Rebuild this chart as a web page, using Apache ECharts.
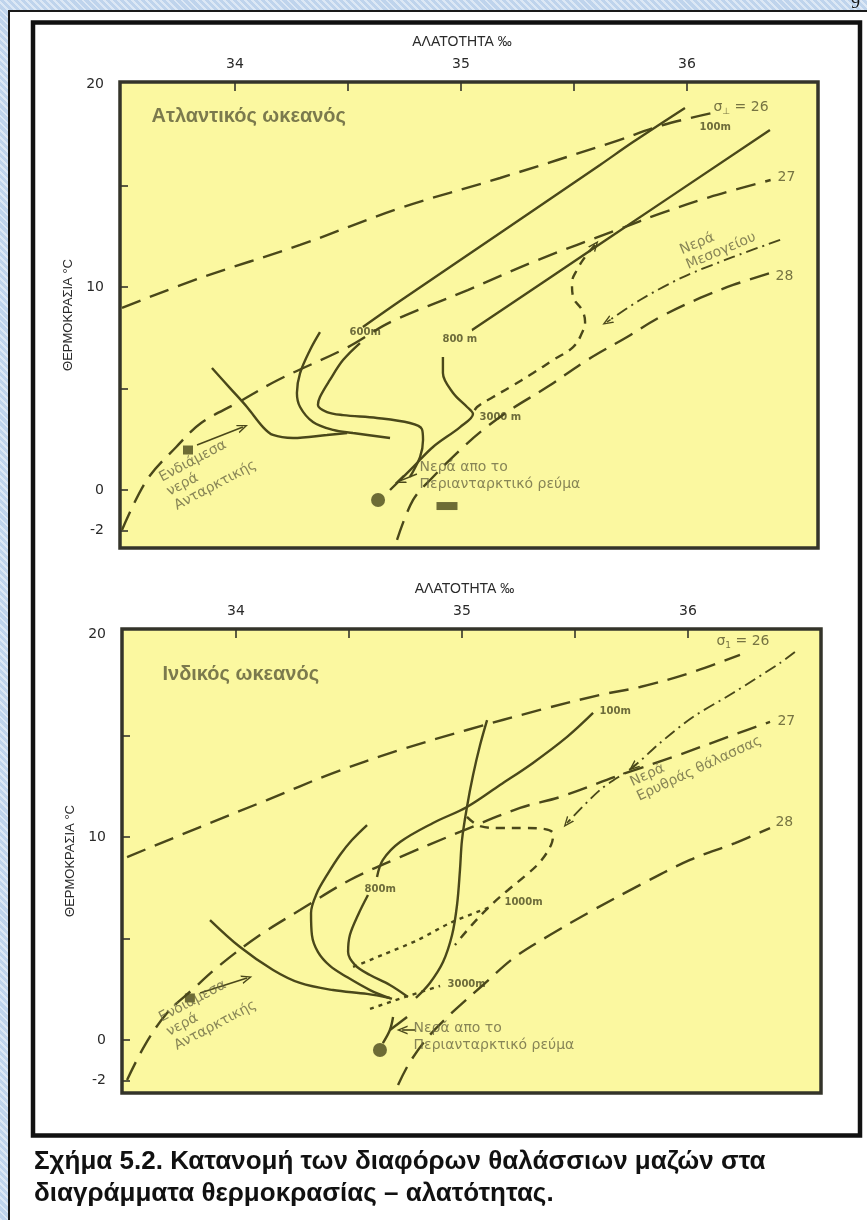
<!DOCTYPE html>
<html><head><meta charset="utf-8">
<script src="https://cdn.jsdelivr.net/npm/echarts@6/dist/echarts.min.js"></script>
<style>
html,body{margin:0;padding:0;}
body{background:#c9dbf0 repeating-linear-gradient(45deg,rgba(255,255,255,.35) 0 2px,rgba(160,190,225,.25) 2px 5px);width:867px;height:1220px;overflow:hidden;position:relative;}
#panel{position:absolute;left:8px;top:10px;width:900px;height:1300px;background:#fff;border-left:2px solid #1a1a1a;border-top:2px solid #1a1a1a;}
#chart{position:absolute;left:0;top:0;width:867px;height:1220px;}
</style></head><body>
<div id="panel"></div><div id="chart"></div>
<script>
// ---- axes ----
const xTicks = [34, 34.5, 35, 35.5, 36];
const xTickLabels = [34, 35, 36];
const yTicks = [15, 10, 5, 0, -2];
const yTickLabels = [20, 10, 0, -2];

// ---- Atlantic (top) : [salinity, temperature] ----
const atlSigma26 = [[33.50,8.97],[33.845,10.44],[34.288,12.07],[34.730,13.89],[35.173,15.37],[35.673,17.14],[35.894,17.98],[36.111,18.57]];
const atlSigma27 = [[33.50,-1.97],[33.61,0.49],[33.74,2.12],[33.85,3.30],[34.01,4.29],[34.19,5.42],[34.50,7.04],[34.69,8.28],[35.03,9.85],[35.34,11.33],[35.69,12.81],[35.89,13.65],[36.10,14.43],[36.37,15.27]];
const atlSigma28 = [[34.717,-2.46],[34.788,-0.49],[34.876,0.64],[34.996,1.97],[35.097,2.96],[35.217,3.94],[35.381,5.07],[35.558,6.40],[35.735,7.54],[35.881,8.52],[36.058,9.46],[36.204,10.10],[36.367,10.69]];
const atlSouthUpper = [[35.991,18.82],[35.761,17.14],[35.615,16.01],[35.173,12.66],[34.730,9.31],[34.566,8.03]];
const atlSouthLower = [[34.553,7.24],[34.478,6.40],[34.420,5.42],[34.376,4.58],[34.367,4.19],[34.407,3.84],[34.478,3.69],[34.628,3.55],[34.774,3.30],[34.827,3.00],[34.832,2.46],[34.819,1.63],[34.774,0.64]];
const atlMidCurve = [[34.376,7.78],[34.332,6.90],[34.288,5.76],[34.274,4.78],[34.288,4.09],[34.345,3.35],[34.434,2.96],[34.522,2.81],[34.686,2.56]];
const atlLeftCurve = [[33.898,6.01],[33.978,5.02],[34.053,4.09],[34.124,3.10],[34.168,2.71],[34.257,2.56],[34.407,2.71],[34.496,2.81]];
const atlNorthUpper = [[36.367,17.73],[35.615,12.12],[35.049,7.88]];
const atlNorthLower = [[34.920,6.55],[34.920,5.76],[34.965,4.78],[35.027,4.09],[35.053,3.74],[34.996,3.10],[34.876,2.12],[34.788,1.13],[34.686,0.00]];
const atlMedCurve = [[35.593,12.07],[35.549,11.48],[35.513,10.84],[35.491,10.20],[35.496,9.51],[35.535,8.87],[35.549,8.28],[35.535,7.73],[35.496,7.04],[35.407,6.40],[35.319,5.76],[35.217,5.07],[35.142,4.58],[35.071,4.09],[35.053,3.74]];
const atlMedInflow = [[36.412,12.32],[36.204,11.48],[35.982,10.49],[35.792,9.36],[35.646,8.28]];
const atlSquare = [[33.792,1.97]];
const atlDot = [[34.633,-0.49]];
const atlBlock = [[34.938,-0.79]];
const atlArrows = [
  [[33.832,2.22],[34.035,3.10]],
  [[34.805,0.79],[34.730,0.45]],
  [[35.662,8.39],[35.646,8.28]],
  [[35.586,11.97],[35.593,12.07]]
];
const atlDepthLabels = [[34.509,7.73,'600m'],[34.920,7.39,'800 m'],[35.084,3.55,'3000 m'],[36.058,17.83,'100m']];
const atlSigmaLabels = [[36.403,15.37,'27'],[36.394,10.49,'28'],[36.119,18.82,'{g|σ}{sub|⊥}{g| = 26}']];
const atlNotes = [[34.819,1.53,'Νερά απο το\nΠεριανταρκτικό ρεύμα']];
const atlRotNotes = [[33.655,0.89,'Ενδιάμεσα\nνερά\nΑνταρκτικής',28],[35.960,12.12,'Νερά\nΜεσογείου',23]];
const atlTitle = [[33.633,18.37,'Ατλαντικός ωκεανός']];

// ---- Indian (bottom) ----
const indSigma26 = [[33.518,9.01],[33.841,10.49],[34.137,11.82],[34.429,13.15],[34.726,14.29],[35.022,15.27],[35.345,16.26],[35.611,17.00],[35.788,17.39],[36.009,18.08],[36.230,18.97]];
const indSigma27 = [[33.518,-1.97],[33.597,-0.25],[33.695,1.33],[33.805,2.46],[33.929,3.69],[34.106,5.17],[34.283,6.40],[34.504,7.88],[34.726,9.01],[34.991,10.25],[35.257,11.43],[35.434,11.97],[35.699,13.05],[35.934,13.94],[36.199,15.02],[36.363,15.67]];
const indSigma28 = [[34.717,-2.22],[34.770,-1.08],[34.858,0.25],[34.969,1.48],[35.093,2.71],[35.235,4.09],[35.389,5.17],[35.566,6.31],[35.788,7.64],[36.009,8.87],[36.208,9.70],[36.363,10.44]];
const indUpper100 = [[35.580,16.11],[35.465,14.93],[35.314,13.65],[35.168,12.56],[35.022,11.48],[34.872,10.69],[34.726,9.75],[34.650,8.87],[34.624,8.03]];
const indLower100 = [[34.584,7.14],[34.540,6.16],[34.504,5.17],[34.496,4.33],[34.527,3.69],[34.593,3.20],[34.681,2.71],[34.761,2.12]];
const indSteep = [[35.111,15.76],[35.080,14.53],[35.049,13.05],[35.022,11.48],[35.000,9.85],[34.991,8.37],[34.978,6.65],[34.956,5.17],[34.916,3.84],[34.858,2.81],[34.796,2.07]];
const indMidCurve = [[34.580,10.59],[34.513,9.85],[34.460,9.11],[34.403,8.13],[34.358,7.24],[34.332,6.26],[34.336,5.17],[34.363,4.33],[34.416,3.65],[34.491,3.10],[34.593,2.46],[34.690,2.02]];
const indLeftCurve = [[33.885,5.91],[34.018,4.58],[34.164,3.45],[34.283,2.81],[34.429,2.46],[34.580,2.27],[34.681,2.07]];
const indDotted1000 = [[34.518,3.60],[34.650,4.20],[34.800,4.90],[34.947,5.76],[35.124,6.55]];
const indDotted3000 = [[34.593,1.53],[34.748,2.12],[34.903,2.66]];
const indRedSeaLoop = [[35.022,10.99],[35.080,10.54],[35.168,10.44],[35.279,10.44],[35.367,10.39],[35.403,10.15],[35.394,9.61],[35.345,8.77],[35.279,8.08],[35.204,7.39],[35.124,6.60],[35.044,5.67],[34.969,4.68]];
const indRedSeaInflow = [[36.473,19.11],[36.407,18.57],[36.199,17.09],[36.022,15.91],[35.876,14.63],[35.757,13.45],[35.611,12.32],[35.465,10.69]];
const indForkA = [[34.695,1.13],[34.681,0.49],[34.650,-0.15]];
const indForkB = [[34.757,1.13],[34.681,0.49]];
const indSquare = [[33.796,2.07]];
const indDot = [[34.637,-0.49]];
const indArrows = [
  [[33.841,2.32],[34.049,3.05]],
  [[34.792,0.49],[34.735,0.49]],
  [[35.771,13.58],[35.757,13.45]],
  [[35.475,10.83],[35.465,10.69]]
];
const indDepthLabels = [[34.571,7.39,'800m'],[35.190,6.75,'1000m'],[34.938,2.71,'3000m'],[35.611,16.16,'100m']];
const indSigmaLabels = [[36.398,15.67,'27'],[36.389,10.69,'28'],[36.128,19.61,'{g|σ}{sub|1}{g| = 26}']];
const indNotes = [[34.788,0.99,'Νερά απο το\nΠεριανταρκτικό ρεύμα']];
const indRotNotes = [[33.650,1.38,'Ενδιάμεσα\nνερά\nΑνταρκτικής',28],[35.735,13.0,'Νερά\nΕρυθράς θάλασσας',25]];
const indTitle = [[33.677,17.98,'Ινδικός ωκεανός']];

const caption = 'Σχήμα 5.2. Κατανομή των διαφόρων θαλάσσιων μαζών στα\nδιαγράμματα θερμοκρασίας – αλατότητας.';

// ---- styles ----
const LINE = '#4a481a', NOTE = '#6a6844', AXIS = '#2a2a2a', BORDER = '#34342a', YELLOW = '#fbf8a0';
const DASH_LONG = [20, 10], DASH_SHORT = [9, 7], DASH_DOT = [12, 5, 2, 5], DOTTED = [4, 5];
const chevron = 'path://M5,0 L10,10 L8.3,10 L5,3.2 L1.7,10 L0,10 Z';

function curve(g, data, type, smooth, width) {
  return {type: 'line', xAxisIndex: g, yAxisIndex: g, data: data, symbol: 'none', silent: true, animation: false,
    smooth: smooth, lineStyle: {color: LINE, width: width || 2.4, type: type || 'solid', cap: 'butt'}, z: 3};
}
function marker(g, data, symbol, size) {
  return {type: 'scatter', xAxisIndex: g, yAxisIndex: g, data: data, symbol: symbol, symbolSize: size,
    silent: true, animation: false, itemStyle: {color: LINE}, z: 4};
}
function arrowSeries(g, list) {
  return {type: 'line', xAxisIndex: g, yAxisIndex: g, data: [list[0][0]], symbol: 'none', silent: true, animation: false,
    lineStyle: {opacity: 0},
    markLine: {silent: true, animation: false, symbol: ['none', chevron], symbolSize: [9, 11],
      lineStyle: {color: LINE, width: 1.6, type: 'solid'}, label: {show: false},
      data: list.map(a => [{coord: a[0]}, {coord: a[1]}])}};
}
function texts(g, data, style, rich) {
  return {type: 'scatter', xAxisIndex: g, yAxisIndex: g, symbol: 'circle', symbolSize: 1, silent: true, animation: false,
    itemStyle: {color: 'rgba(0,0,0,0)'}, z: 5,
    data: data.map(d => ({value: [d[0], d[1], d[2]], label: d.length > 3 ? {rotate: d[3]} : {}})),
    label: Object.assign({show: true, position: [0, 0], align: 'left', verticalAlign: 'middle',
      formatter: p => p.value[2], rich: rich || {}}, style)};
}
const depthStyle = {fontFamily: 'DejaVu Sans', fontSize: 10, fontWeight: 'bold', color: '#4a4920'};
const sigmaStyle = {fontFamily: 'DejaVu Sans', fontSize: 14, color: '#55532a'};
const sigmaRich = {g: {fontFamily: 'DejaVu Sans', fontSize: 14, color: '#55532a'},
  sub: {fontFamily: 'DejaVu Sans', fontSize: 9, color: '#55532a', padding: [8, 0, 0, 0]}};
const noteStyle = {fontFamily: 'DejaVu Sans', fontSize: 14, color: NOTE, verticalAlign: 'top', lineHeight: 17};
const rotStyle = {fontFamily: 'DejaVu Sans', fontSize: 14, color: NOTE, verticalAlign: 'top', lineHeight: 16};
const titleStyle = {fontFamily: 'Liberation Sans', fontSize: 20, fontWeight: 'bold', color: '#5b5a38'};

function buildPlot(g, p) {
  return [
    curve(g, p.s26, DASH_LONG, 0.35), curve(g, p.s27, DASH_LONG, 0.35), curve(g, p.s28, DASH_LONG, 0.35),
    ...p.solid.map(d => curve(g, d, 'solid', 0.35)),
    ...p.dashed.map(d => curve(g, d, DASH_SHORT, 0.4)),
    ...p.dotted.map(d => curve(g, d, DOTTED, 0.3)),
    ...p.dashdot.map(d => curve(g, d, DASH_DOT, 0.3, 1.9)),
    marker(g, p.square, 'rect', [10, 9]), marker(g, p.dot, 'circle', 14),
    ...(p.block ? [marker(g, p.block, 'rect', [21, 8])] : []),
    arrowSeries(g, p.arrows),
    texts(g, p.depth, depthStyle),
    texts(g, p.sigma, sigmaStyle, sigmaRich),
    texts(g, p.notes, noteStyle),
    texts(g, p.rot, rotStyle),
    texts(g, p.title, titleStyle)
  ];
}

const series = [
  ...buildPlot(0, {s26: atlSigma26, s27: atlSigma27, s28: atlSigma28,
    solid: [atlSouthUpper, atlSouthLower, atlMidCurve, atlLeftCurve, atlNorthUpper, atlNorthLower],
    dashed: [atlMedCurve], dotted: [], dashdot: [atlMedInflow],
    square: atlSquare, dot: atlDot, block: atlBlock, arrows: atlArrows,
    depth: atlDepthLabels, sigma: atlSigmaLabels, notes: atlNotes, rot: atlRotNotes, title: atlTitle}),
  ...buildPlot(1, {s26: indSigma26, s27: indSigma27, s28: indSigma28,
    solid: [indUpper100, indLower100, indSteep, indMidCurve, indLeftCurve, indForkA, indForkB],
    dashed: [indRedSeaLoop], dotted: [indDotted1000, indDotted3000], dashdot: [indRedSeaInflow],
    square: indSquare, dot: indDot, block: null, arrows: indArrows,
    depth: indDepthLabels, sigma: indSigmaLabels, notes: indNotes, rot: indRotNotes, title: indTitle})
];

function xAxis(g, min, max) {
  return {type: 'value', gridIndex: g, position: 'top', min: min, max: max,
    axisLine: {show: false, onZero: false}, splitLine: {show: false},
    axisTick: {show: true, inside: true, length: 9, customValues: xTicks, lineStyle: {color: BORDER, width: 1.6}},
    axisLabel: {customValues: xTickLabels, margin: 11, fontFamily: 'DejaVu Sans', fontSize: 14, color: AXIS},
    name: 'ΑΛΑΤΟΤΗΤΑ ‰', nameLocation: 'middle', nameGap: 33,
    nameTextStyle: {fontFamily: 'Liberation Sans', fontSize: 14, color: AXIS, padding: [0, 14, 0, 0]}};
}
function yAxis(g, min, max) {
  return {type: 'value', gridIndex: g, min: min, max: max,
    axisLine: {show: false, onZero: false}, splitLine: {show: false},
    axisTick: {show: true, inside: true, length: 8, customValues: yTicks, lineStyle: {color: BORDER, width: 1.6}},
    axisLabel: {customValues: yTickLabels, margin: 16, fontFamily: 'DejaVu Sans', fontSize: 14, color: AXIS},
    name: 'ΘΕΡΜΟΚΡΑΣΙΑ °C', nameLocation: 'middle', nameGap: 40, nameRotate: 90,
    nameTextStyle: {fontFamily: 'Liberation Sans', fontSize: 13, color: AXIS}};
}

const chart = echarts.init(document.getElementById('chart'), null, {renderer: 'canvas', width: 867, height: 1220});
chart.setOption({
  animation: false,
  backgroundColor: 'transparent',
  title: {text: caption, left: 29, top: 1141,
    textStyle: {fontFamily: 'Liberation Sans', fontSize: 26, fontWeight: 'bold', color: '#111', lineHeight: 32}},
  grid: [
    {left: 120, top: 82, width: 698, height: 466, show: true, backgroundColor: YELLOW, borderColor: BORDER, borderWidth: 3.5},
    {left: 122, top: 629, width: 699, height: 464, show: true, backgroundColor: YELLOW, borderColor: BORDER, borderWidth: 3.5}
  ],
  xAxis: [xAxis(0, 33.4912, 36.5796), xAxis(1, 33.4956, 36.5885)],
  yAxis: [yAxis(0, -2.857, 20.099), yAxis(1, -2.611, 20.246)],
  graphic: [
    {type: 'rect', z: 100, silent: true, shape: {x: 33, y: 22.5, width: 827, height: 1113},
      style: {fill: 'none', stroke: '#111', lineWidth: 4.5}},
    {type: 'text', z: 100, silent: true, x: 851, y: -6, style: {text: '9', font: '18px "Liberation Serif"', fill: '#111'}}
  ],
  series: series
});
</script></body></html>
